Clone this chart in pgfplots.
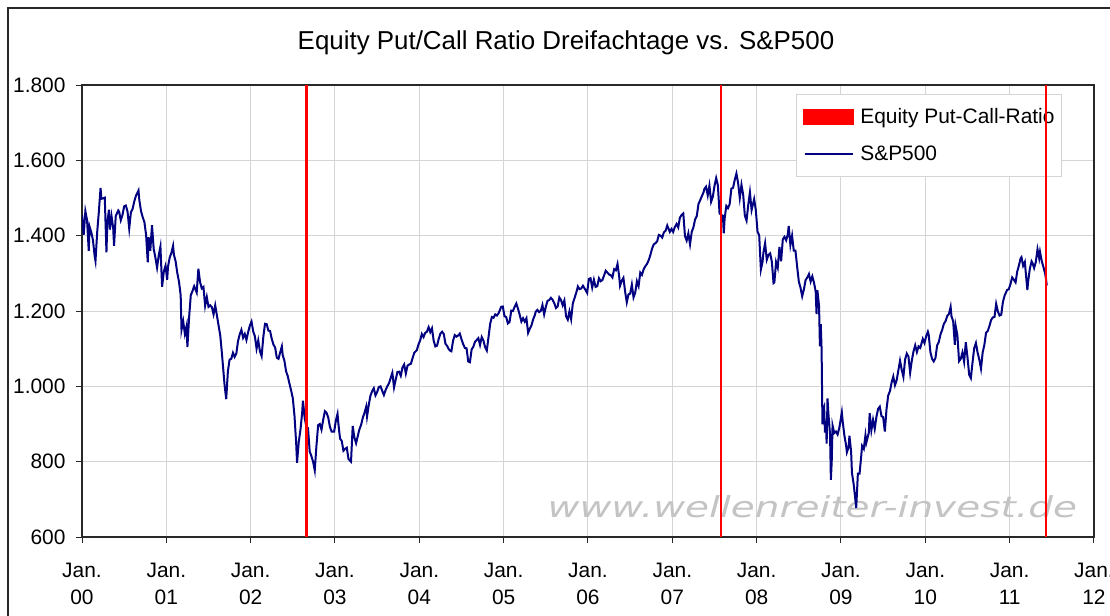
\documentclass[border=0pt]{standalone}
\usepackage{fontspec}
\setmainfont{Liberation Sans}
\newfontfamily\wmfont{DejaVu Sans}
\usepackage{pgfplots}
\pgfplotsset{compat=1.18}
\definecolor{navyline}{RGB}{0,0,128}
\definecolor{gridc}{RGB}{212,212,212}
\definecolor{wmc}{RGB}{196,196,196}
\definecolor{framec}{RGB}{40,40,40}
\begin{document}
\begin{tikzpicture}
\begin{scope}
\clip (0bp,0bp) rectangle (1110bp,-616bp);
\draw[line width=2bp, framec] (8bp,-8bp) rectangle (1160bp,-660bp);
\end{scope}
\node[font=\fontsize{26}{30}\selectfont, anchor=base] at (566bp,-49bp) {Equity Put/Call Ratio Dreifachtage vs. S\&P500};
\begin{axis}[
  at={(82bp,-537bp)}, anchor=south west,
  scale only axis, width=1012bp, height=452bp,
  set layers,
  xmin=2000, xmax=2012, ymin=600, ymax=1800,
  xtick={2000,2001,2002,2003,2004,2005,2006,2007,2008,2009,2010,2011,2012},
  xticklabels={{Jan.\\00},{Jan.\\01},{Jan.\\02},{Jan.\\03},{Jan.\\04},{Jan.\\05},{Jan.\\06},{Jan.\\07},{Jan.\\08},{Jan.\\09},{Jan.\\10},{Jan.\\11},{Jan.\\12}},
  ytick={600,800,1000,1200,1400,1600,1800},
  yticklabels={600,800,1.000,1.200,1.400,1.600,1.800},
  tick pos=left,
  tick align=outside, major tick length=6bp,
  tick style={framec, line width=1bp},
  axis line style={framec, line width=1.3bp},
  grid=major, major grid style={gridc, line width=1bp},
  ticklabel style={font=\fontsize{21}{27}\selectfont},
  xticklabel style={align=center, yshift=-17bp},
  yticklabel style={xshift=-7bp},
  unbounded coords=jump,
  legend cell align=left,
  legend style={at={(0.7055,0.980)}, anchor=north west, draw=gridc, line width=1bp, fill=white,
    font=\fontsize{21}{25}\selectfont, inner xsep=5bp, inner ysep=12bp, row sep=17bp,
    nodes={inner xsep=1.5bp}},
]
\node[font=\wmfont\itshape\fontsize{29}{30}\selectfont, text=wmc, anchor=center] at (axis cs:2008.66,680) {\scalebox{1.35}[1]{www.wellenreiter-invest.de}};
\addplot[red, line width=2.4bp, on layer=axis foreground,
  legend image code/.code={\fill[red] (2bp,-7bp) rectangle (50bp,7bp); \path (0bp,0bp) (55bp,0bp);}]
  coordinates {(2002.66,600) (2002.66,1800) (2005,nan) (2007.575,600) (2007.575,1800) (2010,nan) (2011.43,600) (2011.43,1800)};
\addlegendentry{Equity Put-Call-Ratio}
\addplot[navyline, line width=2bp,
  legend image code/.code={\draw[navyline, line width=1.6bp] (2bp,0bp) -- (50bp,0bp); \path (0bp,0bp) (55bp,0bp);}]
  table {
x y
2000.00 1455
2000.02 1402
2000.04 1465
2000.06 1441
2000.08 1360
2000.09 1424
2000.11 1409
2000.13 1388
2000.15 1346
2000.16 1333
2000.18 1409
2000.20 1464
2000.22 1527
2000.23 1498
2000.25 1499
2000.27 1501
2000.29 1356
2000.30 1434
2000.32 1469
2000.33 1416
2000.35 1452
2000.37 1420
2000.38 1373
2000.40 1452
2000.43 1467
2000.44 1464
2000.46 1441
2000.48 1455
2000.50 1478
2000.52 1480
2000.54 1464
2000.56 1419
2000.58 1462
2000.60 1471
2000.62 1491
2000.64 1506
2000.67 1520
2000.68 1494
2000.70 1465
2000.72 1449
2000.74 1436
2000.76 1402
2000.78 1329
2000.79 1396
2000.81 1360
2000.83 1428
2000.85 1365
2000.87 1342
2000.89 1315
2000.91 1348
2000.93 1371
2000.95 1264
2000.97 1305
2000.99 1320
2001.01 1283
2001.02 1318
2001.04 1342
2001.06 1354
2001.08 1373
2001.09 1349
2001.11 1332
2001.13 1301
2001.15 1278
2001.17 1242
2001.18 1150
2001.20 1173
2001.22 1139
2001.24 1160
2001.25 1104
2001.27 1183
2001.29 1242
2001.31 1253
2001.33 1266
2001.36 1249
2001.38 1312
2001.40 1277
2001.42 1260
2001.44 1264
2001.46 1214
2001.48 1237
2001.50 1211
2001.52 1215
2001.54 1210
2001.56 1191
2001.58 1215
2001.60 1188
2001.62 1161
2001.64 1134
2001.66 1085
2001.69 1005
2001.71 966
2001.73 1040
2001.75 1071
2001.77 1073
2001.79 1089
2001.81 1078
2001.83 1087
2001.85 1120
2001.87 1138
2001.89 1150
2001.91 1129
2001.93 1139
2001.95 1123
2001.97 1144
2001.99 1161
2002.01 1172
2002.03 1146
2002.05 1133
2002.07 1100
2002.09 1122
2002.11 1093
2002.13 1080
2002.15 1131
2002.17 1166
2002.19 1165
2002.21 1148
2002.23 1147
2002.25 1126
2002.27 1111
2002.29 1103
2002.31 1076
2002.33 1073
2002.35 1090
2002.37 1106
2002.38 1083
2002.40 1068
2002.42 1040
2002.44 1027
2002.46 1007
2002.48 989
2002.50 968
2002.52 921
2002.54 847
2002.55 797
2002.57 852
2002.59 884
2002.61 928
2002.62 962
2002.64 917
2002.66 893
2002.68 889
2002.70 827
2002.72 815
2002.74 800
2002.76 777
2002.78 842
2002.80 897
2002.82 900
2002.84 885
2002.86 911
2002.88 934
2002.90 930
2002.92 917
2002.94 892
2002.96 880
2002.99 880
2003.01 909
2003.03 927
2003.04 901
2003.06 861
2003.08 855
2003.10 829
2003.12 834
2003.14 837
2003.16 807
2003.19 800
2003.21 895
2003.23 864
2003.25 849
2003.27 868
2003.29 886
2003.31 898
2003.33 917
2003.35 930
2003.37 946
2003.38 920
2003.40 950
2003.42 975
2003.44 987
2003.46 995
2003.48 976
2003.50 985
2003.52 998
2003.54 1000
2003.56 988
2003.58 977
2003.60 990
2003.62 1000
2003.64 1008
2003.66 1022
2003.68 1036
2003.70 997
2003.72 1018
2003.74 1038
2003.76 1039
2003.78 1028
2003.80 1050
2003.82 1058
2003.84 1034
2003.86 1055
2003.88 1058
2003.90 1060
2003.92 1075
2003.94 1089
2003.97 1096
2003.99 1111
2004.01 1122
2004.03 1139
2004.05 1131
2004.07 1142
2004.09 1145
2004.11 1157
2004.13 1144
2004.15 1154
2004.17 1121
2004.19 1106
2004.21 1108
2004.23 1126
2004.25 1140
2004.27 1145
2004.29 1139
2004.31 1113
2004.33 1107
2004.35 1098
2004.37 1094
2004.38 1093
2004.40 1121
2004.42 1136
2004.44 1132
2004.46 1135
2004.48 1140
2004.50 1125
2004.52 1112
2004.54 1102
2004.56 1101
2004.58 1066
2004.60 1064
2004.62 1098
2004.64 1105
2004.66 1118
2004.68 1123
2004.70 1128
2004.72 1110
2004.74 1131
2004.76 1122
2004.78 1104
2004.80 1095
2004.82 1130
2004.84 1166
2004.86 1184
2004.88 1182
2004.90 1191
2004.92 1188
2004.94 1194
2004.97 1211
2004.99 1212
2005.01 1186
2005.03 1184
2005.05 1167
2005.07 1171
2005.09 1201
2005.11 1200
2005.13 1211
2005.15 1220
2005.17 1206
2005.19 1190
2005.21 1172
2005.23 1181
2005.25 1172
2005.27 1181
2005.29 1142
2005.31 1153
2005.33 1162
2005.35 1178
2005.37 1189
2005.38 1198
2005.40 1203
2005.42 1197
2005.44 1200
2005.46 1216
2005.48 1191
2005.50 1211
2005.52 1227
2005.54 1229
2005.56 1235
2005.58 1230
2005.60 1221
2005.62 1208
2005.64 1212
2005.66 1236
2005.68 1229
2005.70 1215
2005.72 1228
2005.74 1186
2005.76 1177
2005.78 1199
2005.80 1178
2005.82 1220
2005.84 1234
2005.86 1248
2005.88 1265
2005.90 1258
2005.92 1260
2005.94 1267
2005.97 1256
2005.99 1248
2006.01 1285
2006.03 1287
2006.05 1262
2006.07 1283
2006.09 1264
2006.11 1266
2006.13 1287
2006.15 1279
2006.17 1282
2006.19 1294
2006.21 1307
2006.23 1302
2006.25 1297
2006.27 1295
2006.29 1289
2006.31 1311
2006.33 1308
2006.35 1325
2006.37 1291
2006.38 1267
2006.40 1280
2006.42 1288
2006.44 1252
2006.46 1223
2006.48 1244
2006.50 1246
2006.52 1270
2006.54 1236
2006.56 1249
2006.58 1279
2006.60 1266
2006.62 1302
2006.64 1296
2006.66 1311
2006.68 1319
2006.70 1325
2006.72 1335
2006.74 1349
2006.76 1366
2006.78 1377
2006.80 1380
2006.82 1385
2006.84 1402
2006.86 1400
2006.88 1395
2006.90 1409
2006.92 1413
2006.94 1427
2006.97 1410
2006.99 1418
2007.01 1410
2007.03 1423
2007.05 1431
2007.07 1422
2007.09 1448
2007.11 1455
2007.13 1459
2007.15 1399
2007.17 1387
2007.19 1406
2007.21 1377
2007.23 1410
2007.25 1422
2007.27 1443
2007.29 1452
2007.31 1484
2007.33 1494
2007.35 1505
2007.37 1515
2007.38 1524
2007.40 1530
2007.42 1507
2007.44 1533
2007.46 1490
2007.48 1503
2007.50 1532
2007.52 1553
2007.54 1534
2007.56 1459
2007.58 1455
2007.60 1453
2007.61 1406
2007.62 1445
2007.64 1479
2007.66 1473
2007.68 1484
2007.70 1525
2007.72 1527
2007.74 1548
2007.76 1565
2007.78 1540
2007.80 1500
2007.82 1535
2007.84 1509
2007.86 1453
2007.88 1440
2007.90 1481
2007.92 1515
2007.94 1468
2007.97 1497
2007.99 1468
2008.01 1411
2008.03 1401
2008.05 1310
2008.07 1331
2008.08 1355
2008.10 1380
2008.12 1336
2008.14 1349
2008.16 1353
2008.18 1331
2008.20 1274
2008.21 1276
2008.23 1330
2008.25 1315
2008.27 1370
2008.29 1332
2008.31 1390
2008.33 1397
2008.35 1388
2008.37 1404
2008.38 1426
2008.40 1375
2008.42 1400
2008.44 1360
2008.46 1360
2008.48 1318
2008.50 1278
2008.52 1262
2008.54 1239
2008.56 1257
2008.58 1282
2008.60 1289
2008.62 1298
2008.64 1278
2008.66 1292
2008.68 1275
2008.70 1252
2008.71 1192
2008.72 1255
2008.74 1213
2008.75 1106
2008.76 1165
2008.77 1099
2008.78 899
2008.79 940
2008.80 946
2008.81 877
2008.82 908
2008.83 848
2008.84 968
2008.85 930
2008.87 873
2008.88 752
2008.89 800
2008.90 896
2008.92 876
2008.94 880
2008.96 872
2008.98 890
2008.99 903
2009.01 931
2009.02 907
2009.04 870
2009.06 844
2009.07 825
2009.09 838
2009.10 869
2009.12 827
2009.13 770
2009.15 741
2009.17 700
2009.18 677
2009.19 720
2009.20 768
2009.22 768
2009.24 815
2009.25 842
2009.27 834
2009.29 870
2009.30 850
2009.33 877
2009.34 929
2009.36 883
2009.38 911
2009.40 887
2009.42 919
2009.44 940
2009.46 946
2009.48 921
2009.50 918
2009.52 880
2009.54 940
2009.56 976
2009.58 987
2009.60 1010
2009.62 1026
2009.64 1003
2009.66 1016
2009.68 1042
2009.70 1068
2009.72 1044
2009.74 1025
2009.76 1071
2009.78 1087
2009.80 1079
2009.82 1036
2009.84 1069
2009.86 1093
2009.88 1109
2009.90 1091
2009.92 1106
2009.94 1102
2009.97 1126
2009.99 1115
2010.01 1133
2010.03 1145
2010.04 1137
2010.06 1091
2010.08 1073
2010.10 1066
2010.12 1075
2010.14 1109
2010.16 1118
2010.18 1138
2010.20 1150
2010.22 1166
2010.24 1173
2010.26 1187
2010.28 1192
2010.30 1211
2010.31 1186
2010.33 1173
2010.35 1110
2010.36 1160
2010.38 1136
2010.40 1067
2010.42 1073
2010.44 1090
2010.46 1065
2010.48 1117
2010.50 1077
2010.52 1031
2010.54 1022
2010.56 1064
2010.58 1102
2010.60 1115
2010.62 1089
2010.64 1071
2010.66 1047
2010.68 1090
2010.70 1110
2010.72 1142
2010.74 1147
2010.76 1160
2010.78 1176
2010.80 1183
2010.82 1184
2010.84 1219
2010.86 1199
2010.88 1188
2010.90 1190
2010.92 1224
2010.94 1241
2010.97 1256
2010.99 1258
2011.01 1272
2011.03 1289
2011.05 1283
2011.07 1276
2011.09 1305
2011.11 1321
2011.13 1340
2011.14 1343
2011.16 1320
2011.18 1330
2011.19 1304
2011.21 1256
2011.22 1280
2011.24 1313
2011.26 1332
2011.27 1328
2011.29 1314
2011.31 1330
2011.33 1364
2011.35 1340
2011.36 1357
2011.38 1333
2011.40 1317
2011.42 1300
2011.43 1287
2011.44 1268
};
\addlegendentry{S\&P500}
\end{axis}
\pgfresetboundingbox
\path[use as bounding box] (0bp,0bp) rectangle (1110bp,-616bp);
\end{tikzpicture}
\end{document}
